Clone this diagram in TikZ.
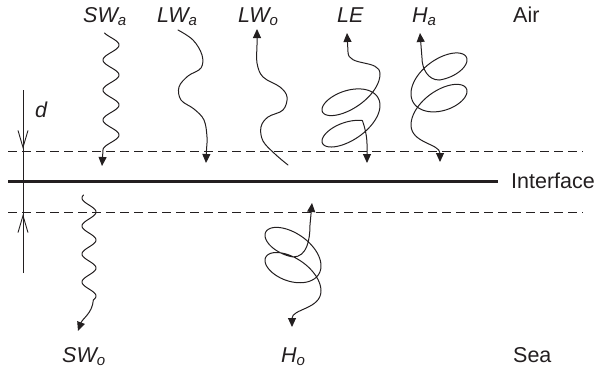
\documentclass[tikz,border=0pt]{standalone}
\usepackage{fontspec}
\setmainfont{Liberation Sans}
\usetikzlibrary{arrows.meta}
\definecolor{ink}{HTML}{231F20}
\tikzset{
  lbl/.style={font=\fontsize{21.5}{25}\selectfont\itshape, text=ink, inner sep=0pt, anchor=base west},
  plainlbl/.style={font=\fontsize{21.5}{25}\selectfont, text=ink, inner sep=0pt, anchor=base west},
  flux/.style={line width=1pt, line join=round, line cap=round, draw=ink},
  tipend/.style={-{Triangle[length=9pt,width=8pt]}},
  tipboth/.style={{Triangle[length=9pt,width=8pt]}-{Triangle[length=9pt,width=8pt]}},
  dashline/.style={line width=0.9pt, draw=ink, dash pattern=on 9pt off 5pt},
  barb/.style={-{Straight Barb[length=17pt,width=10pt]}},
}
\begin{document}
\begin{tikzpicture}[x=1pt,y=-1pt]
\useasboundingbox (0,0) rectangle (598,372);

% reference lines
\coordinate (ul) at (8,151);  \coordinate (ur) at (583,151);
\coordinate (ll) at (8,212);  \coordinate (lr) at (583,212);
\coordinate (il) at (8,181);  \coordinate (ir) at (498,181);
\draw[dashline] (ul) -- (ur);
\draw[dashline] (ll) -- (lr);
\draw[line width=3pt, draw=ink] (il) -- (ir);

% depth d
\coordinate (dtop) at (23,90);
\coordinate (dup) at (23,149);
\coordinate (dlow) at (23,214);
\coordinate (dbot) at (23,273);
\draw[line width=0.9pt, draw=ink] (dtop) -- (dbot);
\draw[line width=0.9pt, draw=ink, barb] (dtop) -- (dup);
\draw[line width=0.9pt, draw=ink, barb] (dbot) -- (dlow);
\node[lbl] (d) at (35,117) {d};

% labels
\node[lbl] (swa) at (83,22) {SW\textsubscript{a}};
\node[lbl] (lwa) at (157,22) {LW\textsubscript{a}};
\node[lbl] (lwo) at (238,22) {LW\textsubscript{o}};
\node[lbl] (le)  at (337,22) {LE};
\node[lbl] (ha)  at (412,22) {H\textsubscript{a}};
\node[plainlbl] (air) at (513,22) {Air};
\node[plainlbl] (intf) at (511,188) {Interface};
\node[lbl] (swo) at (62,362) {SW\textsubscript{o}};
\node[lbl] (ho)  at (281,362) {H\textsubscript{o}};
\node[plainlbl] (sea) at (513,362) {Sea};

% SW_a : short-wave wiggle down
\coordinate (swatip) at (102,166);
\draw[flux, tipend] plot[domain=33:150, samples=120, variable=\u] ({111+8*cos(12*(\u-45))}, {\u}) -- (swatip);

% SW_o
\coordinate (swotip) at (78,331);
\draw[flux, tipend] plot[domain=195:300, samples=120, variable=\u] ({89+7*cos(12.857*(\u-212))}, {\u}) to[out=-95, in=70] (swotip);

% LW_a
\draw[flux, tipend] plot[smooth, tension=0.6] coordinates {(178,30) (193,40) (202,55) (201,68) (188,76) (179,87) (181,100) (194,109) (204,120) (207,137) (206.5,150) (206,163)};

% LW_o
\draw[flux, tipend] plot[smooth, tension=0.6] coordinates {(288,165) (275,154) (263,141) (261,127) (268,117) (283,110) (287,97) (280,87) (263,77) (257,63) (257,45) (257,29)};

% LE
\coordinate (letop) at (347,33);
\coordinate (lebot) at (367,163);
\draw[flux, tipboth] (letop) -- (348,52) to[out=-90,in=90] (380,74)
  -- plot[domain=0:11.4, samples=180, variable=\s] ({351+29*cos(\s r)}, {84+5*\s+18*sin(\s r)-10*cos(\s r)})
  to[out=-70,in=90] (lebot);

% H_a
\coordinate (hatop) at (420,33);
\coordinate (habot) at (440,162);
\draw[flux, tipboth] (hatop) -- (422,58) to[out=-90,in=180] (439,80)
  -- plot[domain=1.5708:12.566, samples=180, variable=\s] ({439-28*cos(\s r)}, {53.2+5*\s+19*sin(\s r)+9*cos(\s r)})
  to[out=-90,in=90] (habot);

% H_o
\coordinate (hotop) at (312,203);
\coordinate (hobot) at (292,327);
\draw[flux, tipboth] (hotop) -- (310,225) to[out=-90,in=0] (293,257)
  -- plot[domain=1.5708:12.566, samples=180, variable=\s] ({293+28*cos(\s r)}, {231.7+4*\s+19*sin(\s r)+9*cos(\s r)})
  to[out=-90,in=90] (hobot);
\end{tikzpicture}
\end{document}
